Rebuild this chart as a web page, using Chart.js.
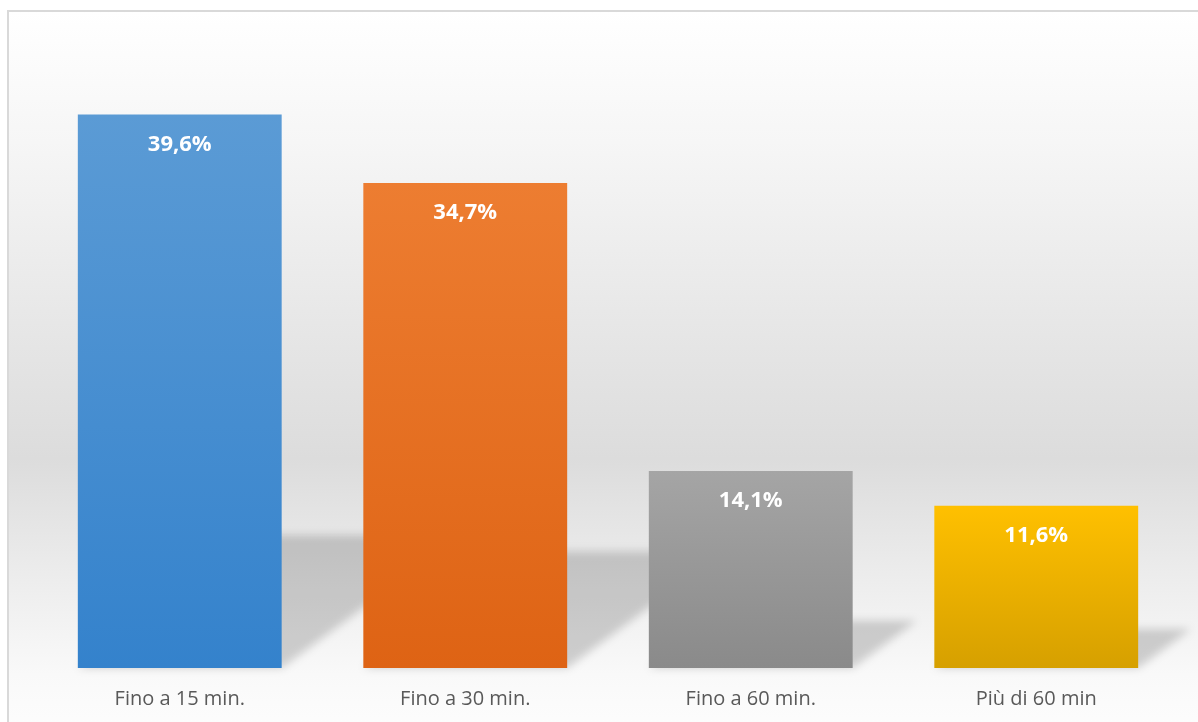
<!DOCTYPE html>
<html>
<head>
<meta charset="utf-8">
<script src="https://cdn.jsdelivr.net/npm/chart.js@4"></script>
<style>
  html, body { margin: 0; padding: 0; background: #fff; overflow: hidden; }
  #frame {
    position: absolute; left: 7px; top: 10px; width: 1200px; height: 720px;
    border: 2px solid #d9d9d9;
    background: linear-gradient(to bottom, #ffffff 0%, #f6f6f6 18%, #eaeaea 38%, #dcdcdc 62%, #ececec 78%, #f9f9f9 92%, #fdfdfd 100%);
  }
  #wrap { position: absolute; left: 0; top: 0; width: 1198px; height: 740px; }
</style>
</head>
<body>
<div id="frame"></div>
<div id="wrap"><canvas id="chart" width="1198" height="740"></canvas></div>
<script>
// dati
const categorie = ["Fino a 15 min.", "Fino a 30 min.", "Fino a 60 min.", "Più di 60 min"];
const valori = [39.6, 34.7, 14.1, 11.6];
const etichette = ["39,6%", "34,7%", "14,1%", "11,6%"];
const coloriTop = ["#5b9bd5", "#ed7d31", "#a5a5a5", "#ffc000"];
const coloriBottom = ["#3482cc", "#de6314", "#8a8a8a", "#d6a000"];

const canvas = document.getElementById("chart");

// gradiente verticale per ogni barra
const barGradient = (context) => {
  const { chart, dataIndex } = context;
  const area = chart.chartArea;
  if (!area) return coloriTop[dataIndex];
  const yTop = chart.scales.y.getPixelForValue(valori[dataIndex]);
  const g = chart.ctx.createLinearGradient(0, yTop, 0, area.bottom);
  g.addColorStop(0, coloriTop[dataIndex]);
  g.addColorStop(1, coloriBottom[dataIndex]);
  return g;
};

// ombra prospettica dietro le barre
const ombrePlugin = {
  id: "ombre",
  beforeDatasetsDraw(chart) {
    const { ctx } = chart;
    const meta = chart.getDatasetMeta(0);
    ctx.save();
    ctx.filter = "blur(4px)";
    ctx.fillStyle = "rgba(0,0,0,0.17)";
    meta.data.forEach((bar) => {
      const left = bar.x - bar.width / 2;
      const right = bar.x + bar.width / 2;
      const h = (bar.base - bar.y) * 0.24;
      const dx = h * 1.35;
      ctx.beginPath();
      ctx.moveTo(left, bar.base);
      ctx.lineTo(right, bar.base);
      ctx.lineTo(right + dx, bar.base - h);
      ctx.lineTo(left + dx, bar.base - h);
      ctx.closePath();
      ctx.fill();
    });
    ctx.restore();
  },
};

// etichette dei valori dentro le barre
const etichettePlugin = {
  id: "etichette",
  afterDatasetsDraw(chart) {
    const { ctx } = chart;
    const meta = chart.getDatasetMeta(0);
    ctx.save();
    ctx.fillStyle = "#ffffff";
    ctx.font = "bold 22px 'Open Sans'";
    ctx.textAlign = "center";
    ctx.textBaseline = "middle";
    meta.data.forEach((bar, i) => {
      ctx.fillText(etichette[i], bar.x, bar.y + 30);
    });
    ctx.restore();
  },
};

const grafico = new Chart(canvas, {
  type: "bar",
  data: {
    labels: categorie,
    datasets: [
      {
        data: valori,
        backgroundColor: barGradient,
        borderWidth: 0,
        barPercentage: 1,
        categoryPercentage: 0.714,
      },
    ],
  },
  options: {
    responsive: false,
    animation: false,
    layout: { padding: { left: 37, right: 19, top: 39, bottom: 10 } },
    plugins: { legend: { display: false }, tooltip: { enabled: false } },
    scales: {
      y: { display: false, min: 0, max: 45 },
      x: {
        grid: { display: false, drawTicks: false },
        border: { display: false },
        ticks: {
          color: "#595959",
          font: { family: "'Open Sans'", size: 20 },
          padding: 19,
        },
      },
    },
  },
  plugins: [ombrePlugin, etichettePlugin],
});
</script>
</body>
</html>
